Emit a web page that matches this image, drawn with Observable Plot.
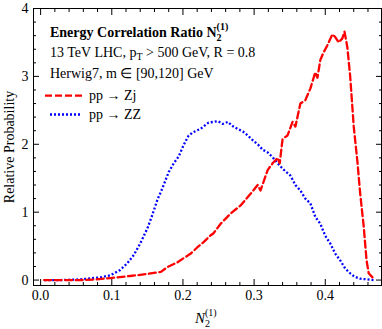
<!DOCTYPE html>
<html><head><meta charset="utf-8">
<script src="https://cdn.jsdelivr.net/npm/d3@7"></script>
<script src="https://cdn.jsdelivr.net/npm/@observablehq/plot@0.6"></script>
<style>body{margin:0;background:#fff}#chart svg{display:block}</style>
</head><body><div id="chart"></div>
<script>
// pp -> Zj (red dashed)
const zjN = [0.005, 0.028, 0.056, 0.079, 0.098, 0.126, 0.150, 0.169, 0.178, 0.192, 0.202, 0.211, 0.220, 0.229, 0.239, 0.243, 0.253, 0.267, 0.281, 0.295, 0.305, 0.309, 0.319, 0.326, 0.333, 0.336, 0.340, 0.347, 0.354, 0.358, 0.365, 0.372, 0.379, 0.386, 0.389, 0.393, 0.397, 0.403, 0.410, 0.414, 0.419, 0.424, 0.427, 0.431, 0.435, 0.440, 0.445, 0.449, 0.454, 0.458, 0.461, 0.468];
const zjP = [0, 0, 0, 0.01, 0.03, 0.06, 0.09, 0.12, 0.19, 0.26, 0.33, 0.39, 0.48, 0.56, 0.66, 0.69, 0.83, 0.98, 1.10, 1.27, 1.40, 1.32, 1.62, 1.72, 1.80, 1.72, 2.08, 2.13, 2.33, 2.26, 2.60, 2.65, 2.82, 3.06, 2.98, 3.24, 3.34, 3.46, 3.62, 3.58, 3.50, 3.56, 3.66, 3.43, 3.00, 2.26, 1.76, 1.28, 0.79, 0.29, 0.10, 0.02];
// pp -> ZZ (blue dotted)
const zzN = [0.005, 0.028, 0.056, 0.084, 0.098, 0.112, 0.122, 0.131, 0.140, 0.150, 0.157, 0.164, 0.171, 0.180, 0.187, 0.194, 0.201, 0.208, 0.215, 0.225, 0.236, 0.243, 0.249, 0.256, 0.263, 0.271, 0.278, 0.284, 0.291, 0.298, 0.306, 0.312, 0.319, 0.326, 0.333, 0.341, 0.351, 0.358, 0.365, 0.372, 0.379, 0.386, 0.393, 0.400, 0.407, 0.414, 0.421, 0.428, 0.435, 0.441, 0.449, 0.459, 0.468];
const zzP = [0, 0, 0.01, 0.04, 0.07, 0.15, 0.25, 0.37, 0.54, 0.76, 0.96, 1.18, 1.35, 1.59, 1.72, 1.82, 1.99, 2.13, 2.18, 2.23, 2.32, 2.33, 2.34, 2.30, 2.33, 2.26, 2.22, 2.19, 2.13, 2.06, 1.99, 1.92, 1.88, 1.81, 1.72, 1.63, 1.54, 1.40, 1.32, 1.20, 1.13, 0.93, 0.83, 0.65, 0.54, 0.39, 0.29, 0.17, 0.10, 0.05, 0.02, 0.01, 0.0];

const xMajor = [0, 0.1, 0.2, 0.3, 0.4];
const xMinor = [0.02, 0.04, 0.06, 0.08, 0.12, 0.14, 0.16, 0.18, 0.22, 0.24, 0.26, 0.28, 0.32, 0.34, 0.36, 0.38, 0.42, 0.44, 0.46];
const yMajor = [0, 1, 2, 3, 4];
const yMinor = [0.2, 0.4, 0.6, 0.8, 1.2, 1.4, 1.6, 1.8, 2.2, 2.4, 2.6, 2.8, 3.2, 3.4, 3.6, 3.8];

const zj = zjN.map((n, i) => ({n, p: zjP[i]}));
const zz = zzN.map((n, i) => ({n, p: zzP[i]}));

const blank = () => "";
const font = "Liberation Serif, Times New Roman, serif";

const chart = Plot.plot({
  width: 382, height: 329,
  marginLeft: 33, marginRight: 1, marginTop: 8, marginBottom: 44,
  x: {domain: [-0.01, 0.479]},
  y: {domain: [-0.08, 4]},
  style: {fontFamily: font, fontSize: "14px", color: "black", background: "white"},
  marks: [
    Plot.line(zz, {x: "n", y: "p", stroke: "#0000ff", strokeWidth: 2.3, strokeDasharray: "2,2", strokeLinecap: "butt"}),
    Plot.line(zj, {x: "n", y: "p", stroke: "#ff0000", strokeWidth: 2.3, strokeDasharray: "7,3.5"}),
    Plot.frame({stroke: "black", strokeWidth: 1}),
    Plot.axisX({ticks: xMajor, tickSize: 0, tickPadding: 5, tickFormat: d3.format(".1f"), label: null, fontSize: 14, fontFamily: font}),
    Plot.axisX({ticks: xMajor, tickSize: -6, tickFormat: blank, label: null}),
    Plot.axisX({ticks: xMinor, tickSize: -3, tickFormat: blank, label: null}),
    Plot.axisX({anchor: "top", ticks: xMajor, tickSize: -6, tickFormat: blank, label: null}),
    Plot.axisX({anchor: "top", ticks: xMinor, tickSize: -3, tickFormat: blank, label: null}),
    Plot.axisY({ticks: yMajor, tickSize: 0, tickPadding: 5, tickFormat: d3.format("d"), label: null, fontSize: 14, fontFamily: font}),
    Plot.axisY({ticks: yMajor, tickSize: -6, tickFormat: blank, label: null}),
    Plot.axisY({ticks: yMinor, tickSize: -3, tickFormat: blank, label: null}),
    Plot.axisY({anchor: "right", ticks: yMajor, tickSize: -6, tickFormat: blank, label: null}),
    Plot.axisY({anchor: "right", ticks: yMinor, tickSize: -3, tickFormat: blank, label: null})
  ]
});
document.getElementById("chart").appendChild(chart);

const svg = d3.select(chart);
svg.attr("font-family", font);
svg.selectAll("text").attr("font-family", font).style("font-family", font);

const g = svg.append("g").attr("font-family", font).attr("fill", "black").attr("text-anchor", "start");

// Title with stacked sub/superscript
const t = g.append("text").attr("x", 50).attr("y", 36.5).attr("font-size", 14).attr("font-weight", "bold");
t.append("tspan").text("Energy Correlation Ratio N");
t.append("tspan").attr("dy", 4).attr("font-size", 10).text("2");
t.append("tspan").attr("dx", -5).attr("dy", -11).attr("font-size", 10).text("(1)");

const l2 = g.append("text").attr("x", 50).attr("y", 57).attr("font-size", 14);
l2.append("tspan").text("13 TeV LHC, p");
l2.append("tspan").attr("dy", 3).attr("font-size", 10).text("T");
l2.append("tspan").attr("dy", -3).text(" > 500 GeV, R = 0.8");

g.append("text").attr("x", 50).attr("y", 77.5).attr("font-size", 14).text("Herwig7, m \u2208 [90,120] GeV");

g.append("line").attr("x1", 45).attr("x2", 82).attr("y1", 95.7).attr("y2", 95.7)
  .attr("stroke", "#ff0000").attr("stroke-width", 2.3).attr("stroke-dasharray", "7,3");
g.append("text").attr("x", 89).attr("y", 100).attr("font-size", 14).text("pp \u2192 Zj");

g.append("line").attr("x1", 50).attr("x2", 81).attr("y1", 114.5).attr("y2", 114.5)
  .attr("stroke", "#0000ff").attr("stroke-width", 2.3).attr("stroke-dasharray", "2,2");
g.append("text").attr("x", 89).attr("y", 119).attr("font-size", 14).text("pp \u2192 ZZ");

// y-axis label
g.append("text").attr("transform", "translate(13.5,147) rotate(-90)").attr("text-anchor", "middle")
  .attr("font-size", 14).text("Relative Probability");

// x-axis label
const xl = g.append("text").attr("x", 195).attr("y", 322.5).attr("font-size", 15);
xl.append("tspan").attr("font-style", "italic").text("N");
xl.append("tspan").attr("dy", 4).attr("font-size", 10).text("2");
xl.append("tspan").attr("dx", -5).attr("dy", -11).attr("font-size", 10).text("(1)");
</script>
</body></html>
